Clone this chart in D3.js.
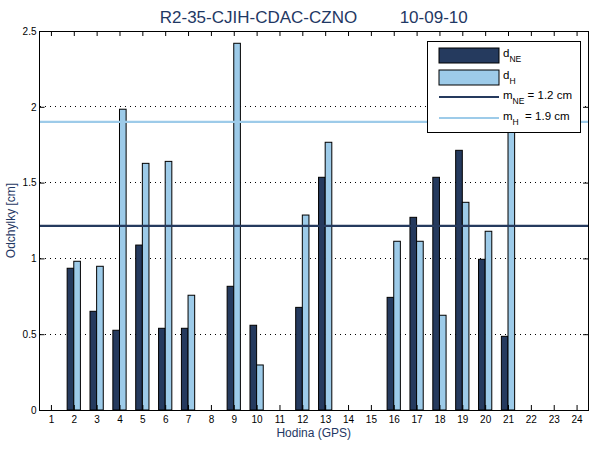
<!DOCTYPE html>
<html>
<head>
<meta charset="utf-8">
<script src="https://cdn.jsdelivr.net/npm/d3@7"></script>
<style>
  body { margin: 0; background: #fff; }
  svg { font-family: "Liberation Sans", Arial, sans-serif; }
</style>
</head>
<body>
<div id="chart"></div>
<script>
// Data
const hours = d3.range(1, 25);
const dNE = [null, 0.935, 0.651, 0.526, 1.088, 0.539, 0.539, null, 0.816, 0.559, null, 0.677,
             1.535, null, null, 0.743, 1.271, 1.535, 1.713, 0.994, 0.486, null, null, null];
const dH  = [null, 0.981, 0.948, 1.984, 1.627, 1.640, 0.757, null, 2.419, 0.297, null, 1.286,
             1.766, null, null, 1.113, 1.113, 0.625, 1.370, 1.179, 2.05, null, null, null];
const meanNE = 1.214;
const meanH = 1.90;
const yTicks = [0, 0.5, 1, 1.5, 2, 2.5];
const titleText = "R2-35-CJIH-CDAC-CZNO         10-09-10";

const darkColor = "#253a5e";
const lightColor = "#9dcbe9";
const textColor = "#1f3864";

// Chart dimensions
const W = 600, H = 450;
const margin = { top: 31, right: 12, bottom: 40, left: 39.5 };
const width = W - margin.left - margin.right;
const height = H - margin.top - margin.bottom;

const svg = d3.select("#chart").append("svg")
    .attr("width", W)
    .attr("height", H);

const g = svg.append("g")
    .attr("transform", `translate(${margin.left},${margin.top})`);

// Scales
const x = d3.scaleLinear().domain([0.5, 24.5]).range([0, width]);
const y = d3.scaleLinear().domain([0, 2.5]).range([height, 0]);
const barW = 0.29;

// Dotted grid
g.selectAll(".grid")
    .data(yTicks.filter(d => d > 0 && d < 2.5))
    .enter().append("line")
    .attr("x1", 0).attr("x2", width)
    .attr("y1", d => y(d)).attr("y2", d => y(d))
    .attr("stroke", "#000")
    .attr("stroke-width", 1)
    .attr("stroke-dasharray", "1,4")
    .attr("shape-rendering", "crispEdges");

// Bars
const barData = [];
hours.forEach((h, i) => {
    if (dNE[i] != null) barData.push({ h, v: dNE[i], off: -barW, c: darkColor });
    if (dH[i] != null) barData.push({ h, v: dH[i], off: 0, c: lightColor });
});

g.selectAll(".bar")
    .data(barData)
    .enter().append("rect")
    .attr("x", d => x(d.h + d.off))
    .attr("y", d => y(d.v))
    .attr("width", x(barW) - x(0))
    .attr("height", d => height - y(d.v))
    .attr("fill", d => d.c)
    .attr("stroke", "#000")
    .attr("stroke-width", 1);

// Mean lines
[[meanNE, darkColor], [meanH, lightColor]].forEach(([m, c]) => {
    g.append("line")
        .attr("x1", 0).attr("x2", width)
        .attr("y1", y(m)).attr("y2", y(m))
        .attr("stroke", c)
        .attr("stroke-width", 2.2);
});

// Frame
g.append("rect")
    .attr("width", width).attr("height", height)
    .attr("fill", "none")
    .attr("stroke", "#000")
    .attr("stroke-width", 1)
    .attr("shape-rendering", "crispEdges");

// Axes with inner ticks on all sides
const tickLen = 5;
g.append("g")
    .attr("transform", `translate(0,${height})`)
    .call(d3.axisBottom(x).tickValues(hours).tickSizeInner(-tickLen).tickSizeOuter(0).tickPadding(6))
    .call(a => a.select(".domain").remove())
    .call(a => a.selectAll("text").attr("font-size", 10).attr("font-family", "Liberation Sans, Arial").attr("fill", "#000"));

g.append("g")
    .call(d3.axisTop(x).tickValues(hours).tickSizeInner(-tickLen).tickSizeOuter(0).tickFormat(""))
    .call(a => a.select(".domain").remove());

g.append("g")
    .call(d3.axisLeft(y).tickValues(yTicks).tickSizeInner(-tickLen).tickSizeOuter(0).tickPadding(3)
        .tickFormat(d => d === 0 ? "0" : String(d)))
    .call(a => a.select(".domain").remove())
    .call(a => a.selectAll("text").attr("font-size", 10).attr("font-family", "Liberation Sans, Arial").attr("fill", "#000"));

g.append("g")
    .attr("transform", `translate(${width},0)`)
    .call(d3.axisRight(y).tickValues(yTicks).tickSizeInner(-tickLen).tickSizeOuter(0).tickFormat(""))
    .call(a => a.select(".domain").remove());

// Title
svg.append("text")
    .attr("x", margin.left + width / 2)
    .attr("y", 23)
    .attr("text-anchor", "middle")
    .attr("font-size", 17)
    .attr("fill", textColor)
    .style("white-space", "pre")
    .text(titleText);

// Axis labels
svg.append("text")
    .attr("transform", `translate(15,${margin.top + height / 2}) rotate(-90)`)
    .attr("text-anchor", "middle")
    .attr("font-size", 12)
    .attr("fill", textColor)
    .text("Odchylky [cm]");

svg.append("text")
    .attr("x", margin.left + width / 2)
    .attr("y", 437)
    .attr("text-anchor", "middle")
    .attr("font-size", 12)
    .attr("fill", textColor)
    .text("Hodina (GPS)");

// Legend
const leg = svg.append("g").attr("transform", "translate(427,41)");
leg.append("rect")
    .attr("width", 153).attr("height", 91)
    .attr("fill", "#fff")
    .attr("stroke", "#000")
    .attr("stroke-width", 1)
    .attr("shape-rendering", "crispEdges");

const legItems = [
    { type: "patch", c: darkColor, main: "d", sub: "NE", rest: "", y: 14 },
    { type: "patch", c: lightColor, main: "d", sub: "H", rest: "", y: 36 },
    { type: "line", c: darkColor, main: "m", sub: "NE", rest: " = 1.2 cm", y: 56 },
    { type: "line", c: lightColor, main: "m", sub: "H", rest: "  = 1.9 cm", y: 77 }
];

legItems.forEach(it => {
    if (it.type === "patch") {
        leg.append("rect")
            .attr("x", 12).attr("y", it.y - 7)
            .attr("width", 60).attr("height", 15)
            .attr("fill", it.c)
            .attr("stroke", "#000")
            .attr("stroke-width", 1);
    } else {
        leg.append("line")
            .attr("x1", 12).attr("x2", 72)
            .attr("y1", it.y).attr("y2", it.y)
            .attr("stroke", it.c)
            .attr("stroke-width", 2.2);
    }
    const t = leg.append("text")
        .attr("x", 76)
        .attr("y", it.y + 2)
        .attr("font-size", 11.5)
        .attr("fill", "#000")
        .style("white-space", "pre");
    t.append("tspan").text(it.main);
    t.append("tspan").attr("font-size", 8.5).attr("dy", 5).text(it.sub);
    if (it.rest) t.append("tspan").attr("dy", -5).text(it.rest);
});
</script>
</body>
</html>
